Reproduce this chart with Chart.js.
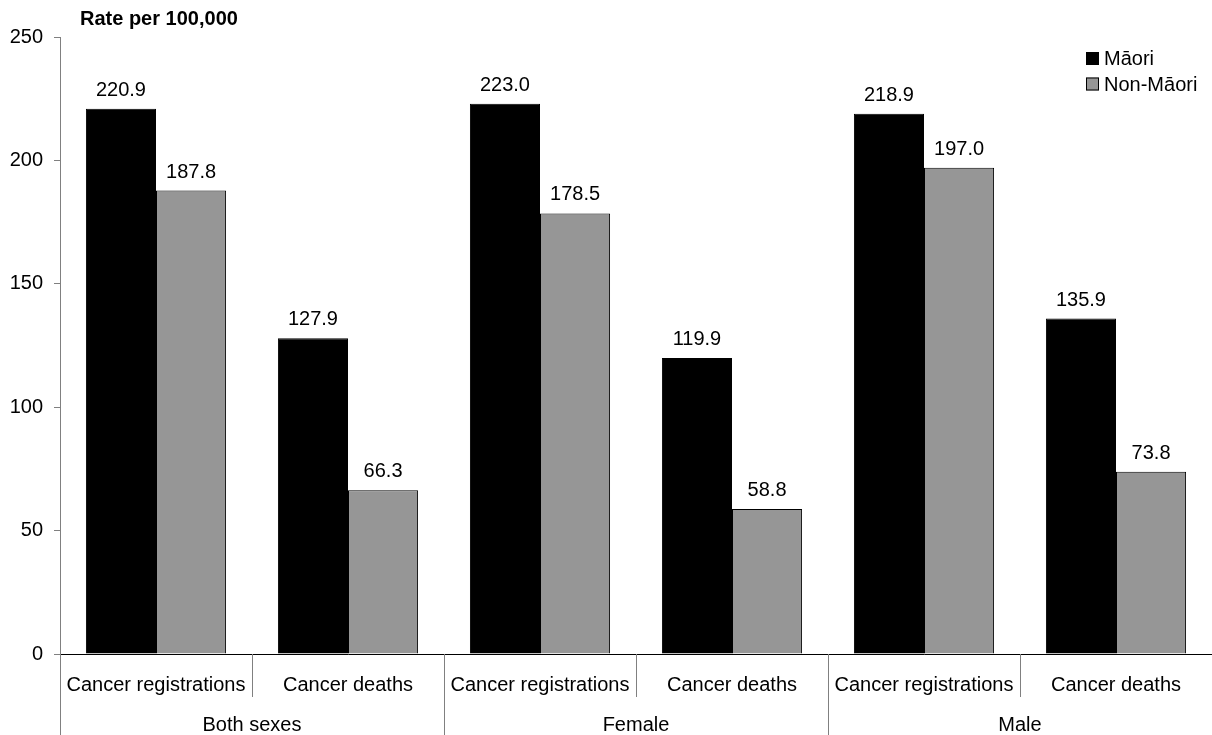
<!DOCTYPE html>
<html>
<head>
<meta charset="utf-8">
<script src="https://cdn.jsdelivr.net/npm/chart.js@4/dist/chart.umd.min.js"></script>
<style>
  html, body { margin: 0; padding: 0; background: #fff; }
  #wrap { width: 1212px; height: 735px; position: relative; }
</style>
</head>
<body>
<div id="wrap"><canvas id="c" width="1212" height="735"></canvas></div>
<script>
// Age-standardised rates per 100,000
const subCategories = ['Cancer registrations', 'Cancer deaths', 'Cancer registrations', 'Cancer deaths', 'Cancer registrations', 'Cancer deaths'];
const groups = ['Both sexes', 'Female', 'Male'];
const maoriRates = [220.9, 127.9, 223.0, 119.9, 218.9, 135.9];
const nonMaoriRates = [187.8, 66.3, 178.5, 58.8, 197.0, 73.8];
const seriesNames = ['Māori', 'Non-Māori'];
const yTicks = [0, 50, 100, 150, 200, 250];

const FONT = '"Liberation Sans", Arial, sans-serif';
const FS = 20;
const AXIS_GREY = '#808080';

// Value labels above each bar
const valueLabels = {
  id: 'valueLabels',
  afterDatasetsDraw(chart) {
    const ctx = chart.ctx;
    ctx.save();
    ctx.font = FS + 'px ' + FONT;
    ctx.fillStyle = '#000';
    ctx.textAlign = 'center';
    ctx.textBaseline = 'alphabetic';
    chart.data.datasets.forEach((ds, i) => {
      chart.getDatasetMeta(i).data.forEach((bar, j) => {
        ctx.fillText(ds.data[j].toFixed(1), bar.x, bar.y - 13);
      });
    });
    ctx.restore();
  }
};

// Two-level category axis: separators and group names, plus title and key
const decorations = {
  id: 'decorations',
  afterDraw(chart) {
    const ctx = chart.ctx;
    const x = chart.scales.x;
    const area = chart.chartArea;
    const H = chart.height;
    const half = (x.getPixelForValue(1) - x.getPixelForValue(0)) / 2;
    ctx.save();
    ctx.strokeStyle = AXIS_GREY;
    ctx.lineWidth = 1;
    // boundaries between categories
    for (let i = 0; i <= subCategories.length; i++) {
      const px = Math.round((i < subCategories.length ? x.getPixelForValue(i) - half : x.getPixelForValue(i - 1) + half)) + 0.5;
      const isGroupEdge = i % 2 === 0;
      ctx.beginPath();
      ctx.moveTo(px, area.bottom);
      ctx.lineTo(px, isGroupEdge ? H : area.bottom + 43);
      ctx.stroke();
    }
    // group names
    ctx.font = FS + 'px ' + FONT;
    ctx.fillStyle = '#000';
    ctx.textAlign = 'center';
    ctx.textBaseline = 'alphabetic';
    groups.forEach((g, k) => {
      const cx = (x.getPixelForValue(2 * k) + x.getPixelForValue(2 * k + 1)) / 2;
      ctx.fillText(g, cx, 731);
    });
    // axis title
    ctx.font = 'bold ' + FS + 'px ' + FONT;
    ctx.textAlign = 'left';
    ctx.fillText('Rate per 100,000', 80, 25);
    // key
    ctx.font = FS + 'px ' + FONT;
    const colors = chart.data.datasets.map(d => d.backgroundColor);
    seriesNames.forEach((name, i) => {
      const top = 52 + i * 25.5;
      ctx.fillStyle = colors[i];
      ctx.fillRect(1086, top, 13, 13);
      ctx.strokeStyle = '#000';
      ctx.strokeRect(1086.5, top + 0.5, 12, 12);
      ctx.fillStyle = '#000';
      ctx.fillText(name, 1104, top + 13);
    });
    ctx.restore();
  }
};

new Chart(document.getElementById('c'), {
  type: 'bar',
  data: {
    labels: subCategories,
    datasets: [
      { label: seriesNames[0], data: maoriRates, backgroundColor: '#000000', borderColor: '#000000', borderWidth: 1 },
      { label: seriesNames[1], data: nonMaoriRates, backgroundColor: '#969696', borderColor: '#000000', borderWidth: 1 }
    ]
  },
  options: {
    responsive: false,
    animation: false,
    devicePixelRatio: 1,
    layout: { padding: { top: 37, right: 0, bottom: 0, left: 0 } },
    datasets: { bar: { barPercentage: 1.0, categoryPercentage: 0.73 } },
    plugins: { legend: { display: false }, tooltip: { enabled: false } },
    scales: {
      x: {
        grid: { display: false, drawTicks: false },
        border: { display: true, color: '#000', width: 1 },
        ticks: { color: '#000', font: { family: FONT, size: FS }, padding: 19, maxRotation: 0, autoSkip: false },
        afterFit(s) { s.height = 81; }
      },
      y: {
        min: 0, max: 250,
        afterBuildTicks(s) { s.ticks = yTicks.map(v => ({ value: v })); },
        grid: { drawOnChartArea: false, drawTicks: true, tickLength: 6, color: AXIS_GREY },
        border: { display: true, color: AXIS_GREY, width: 1 },
        ticks: { color: '#000', font: { family: FONT, size: FS }, padding: 11 },
        afterFit(s) { s.width = 60; }
      }
    }
  },
  plugins: [valueLabels, decorations]
});
</script>
</body>
</html>
